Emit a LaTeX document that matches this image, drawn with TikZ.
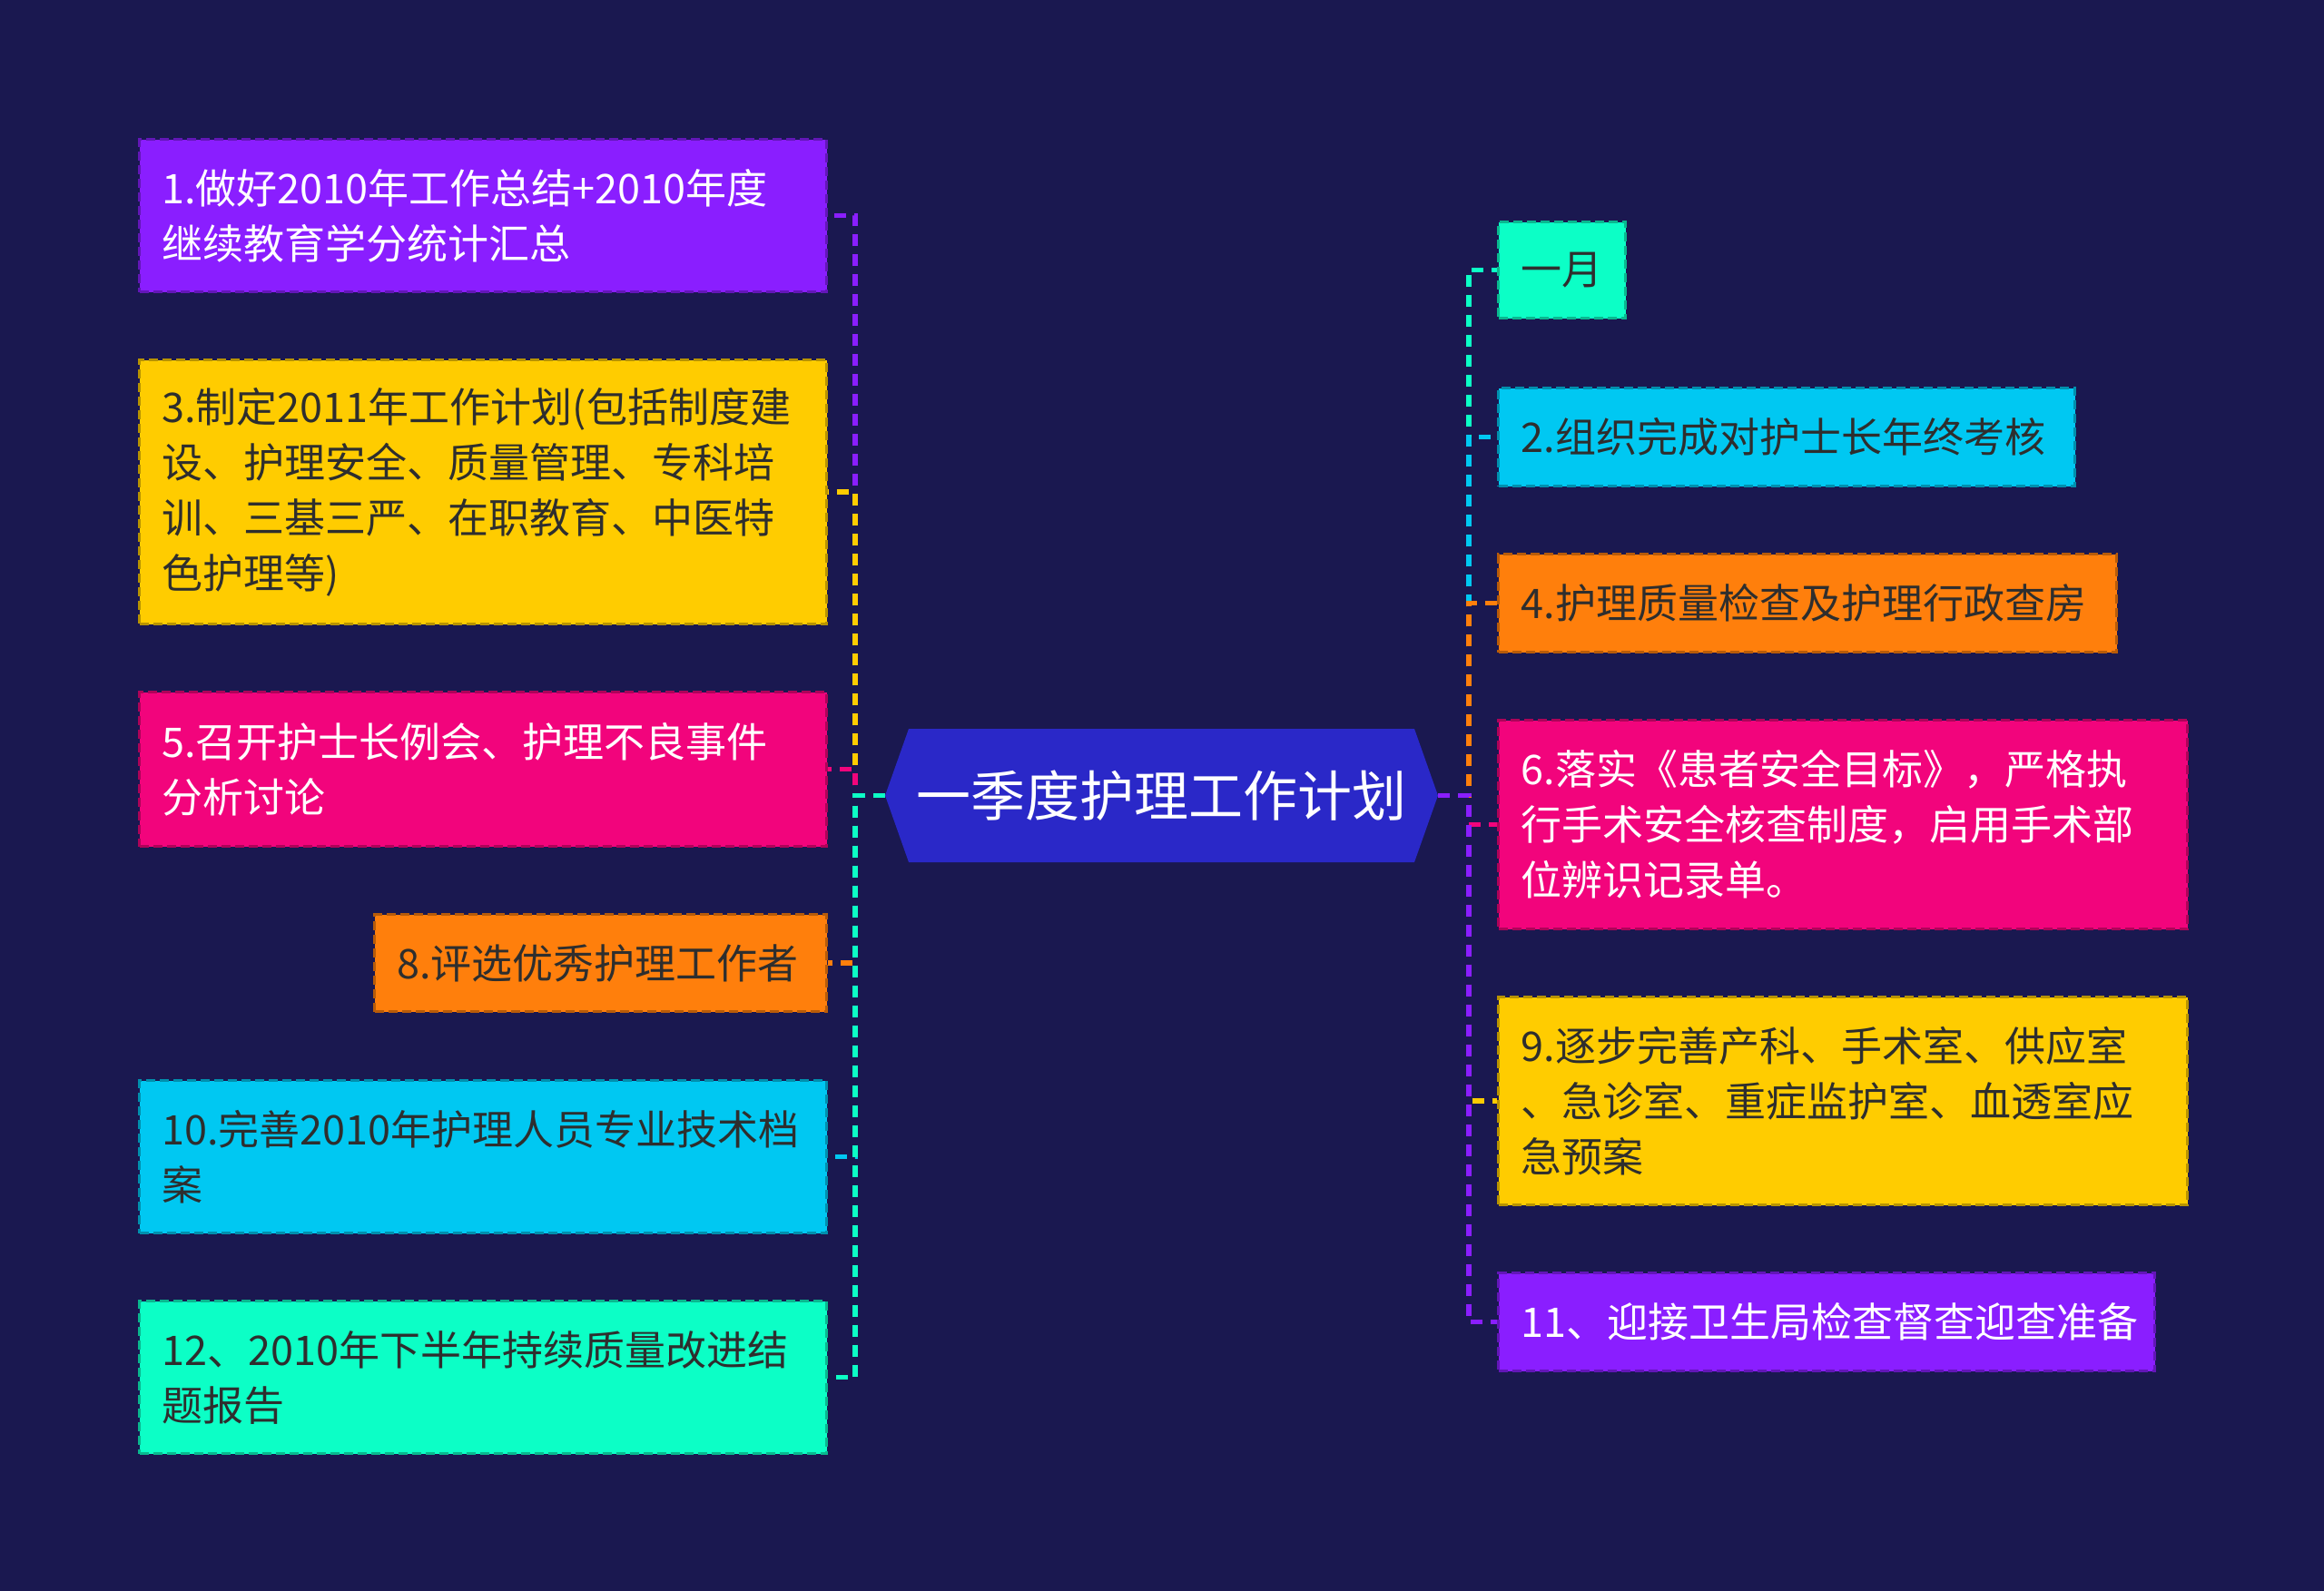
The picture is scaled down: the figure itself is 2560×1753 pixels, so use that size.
\documentclass[tikz,border=0pt]{standalone}
\usepackage{fontspec}
\setmainfont{Noto Sans CJK SC}
\definecolor{bg}{HTML}{1A1850}
\definecolor{cpur}{HTML}{8A1EFF}
\definecolor{cyel}{HTML}{FFCC00}
\definecolor{cpink}{HTML}{F2047C}
\definecolor{cora}{HTML}{FF7F0C}
\definecolor{ccyan}{HTML}{00C8F2}
\definecolor{cmint}{HTML}{0CFFC6}
\definecolor{cblue}{HTML}{2A28C8}
\definecolor{dtext}{HTML}{2E2E2E}
\tikzset{
 box/.style={draw=#1!72!black, fill=#1, line width=3pt, dash pattern=on 10pt off 5pt,
   rectangle, inner xsep=25pt, inner ysep=0pt, anchor=north west, align=left,
   font=\fontsize{45}{61}\selectfont},
 lt/.style={text=white},
 dk/.style={text=dtext},
 conn/.style={draw=#1, line width=5.5pt, dash pattern=on 13pt off 9pt},
}
\begin{document}
\begin{tikzpicture}[x=1pt,y=-1pt]
\fill[bg] (0,0) rectangle (2560,1753);
\useasboundingbox (0,0) rectangle (2560,1753);

% center
\node[minimum width=609pt, minimum height=147pt, inner sep=0pt, text=white,
  font=\fontsize{60}{72}\selectfont,
  path picture={\fill[cblue] (path picture bounding box.west)
     -- ([xshift=26pt]path picture bounding box.north west)
     -- ([xshift=-26pt]path picture bounding box.north east)
     -- (path picture bounding box.east)
     -- ([xshift=-26pt]path picture bounding box.south east)
     -- ([xshift=26pt]path picture bounding box.south west) -- cycle;}]
  (c) at (1279.5,876.5) {一季度护理工作计划};

% left boxes
\node[box=cpur, lt, minimum width=757pt, minimum height=168pt, text width=707pt] (b1) at (152,152)
 {1.做好2010年工作总结+2010年度\\继续教育学分统计汇总};
\node[box=cyel, dk, minimum width=757pt, minimum height=291pt, text width=707pt] (b3) at (152,395)
 {3.制定2011年工作计划(包括制度建\\设、护理安全、质量管理、专科培\\训、三基三严、在职教育、中医特\\色护理等)};
\node[box=cpink, lt, minimum width=757pt, minimum height=170pt, text width=707pt] (b5) at (152,761)
 {5.召开护士长例会、护理不良事件\\分析讨论};
\node[box=cora, dk, minimum width=498pt, minimum height=107pt, text width=448pt] (b8) at (411,1006)
 {8.评选优秀护理工作者};
\node[box=ccyan, dk, minimum width=757pt, minimum height=168pt, text width=707pt] (b10) at (152,1189)
 {10.完善2010年护理人员专业技术档\\案};
\node[box=cmint, dk, minimum width=757pt, minimum height=168pt, text width=707pt] (b12) at (152,1432)
 {12、2010年下半年持续质量改进结\\题报告};

% right boxes
\node[box=cmint, dk, minimum width=140pt, minimum height=106pt, text width=90pt] (r1) at (1649,243)
 {一月};
\node[box=ccyan, dk, minimum width=635pt, minimum height=108pt, text width=585pt] (r2) at (1649,426)
 {2.组织完成对护士长年终考核};
\node[box=cora, dk, minimum width=681pt, minimum height=108pt, text width=631pt] (r4) at (1649,609)
 {4.护理质量检查及护理行政查房};
\node[box=cpink, lt, minimum width=759pt, minimum height=230pt, text width=709pt] (r6) at (1649,792)
 {6.落实《患者安全目标》，严格执\\行手术安全核查制度，启用手术部\\位辨识记录单。};
\node[box=cyel, dk, minimum width=759pt, minimum height=229pt, text width=709pt] (r9) at (1649,1097)
 {9.逐步完善产科、手术室、供应室\\、急诊室、重症监护室、血透室应\\急预案};
\node[box=cpur, lt, minimum width=723pt, minimum height=108pt, text width=673pt] (r11) at (1649,1401)
 {11、迎接卫生局检查督查迎查准备};

% connectors left
\coordinate (lt) at (942,876.5);
\coordinate (rt) at (1618,876.5);
\foreach \n/\col in {b1/cpur, b3/cyel, b5/cpink, b8/cora, b10/ccyan, b12/cmint}
  \draw[conn=\col] (c.west) -- (lt) |- (\n.east);
\foreach \n/\col in {r1/cmint, r2/ccyan, r4/cora, r6/cpink, r9/cyel, r11/cpur}
  \draw[conn=\col] (c.east) -- (rt) |- (\n.west);
\end{tikzpicture}
\end{document}
